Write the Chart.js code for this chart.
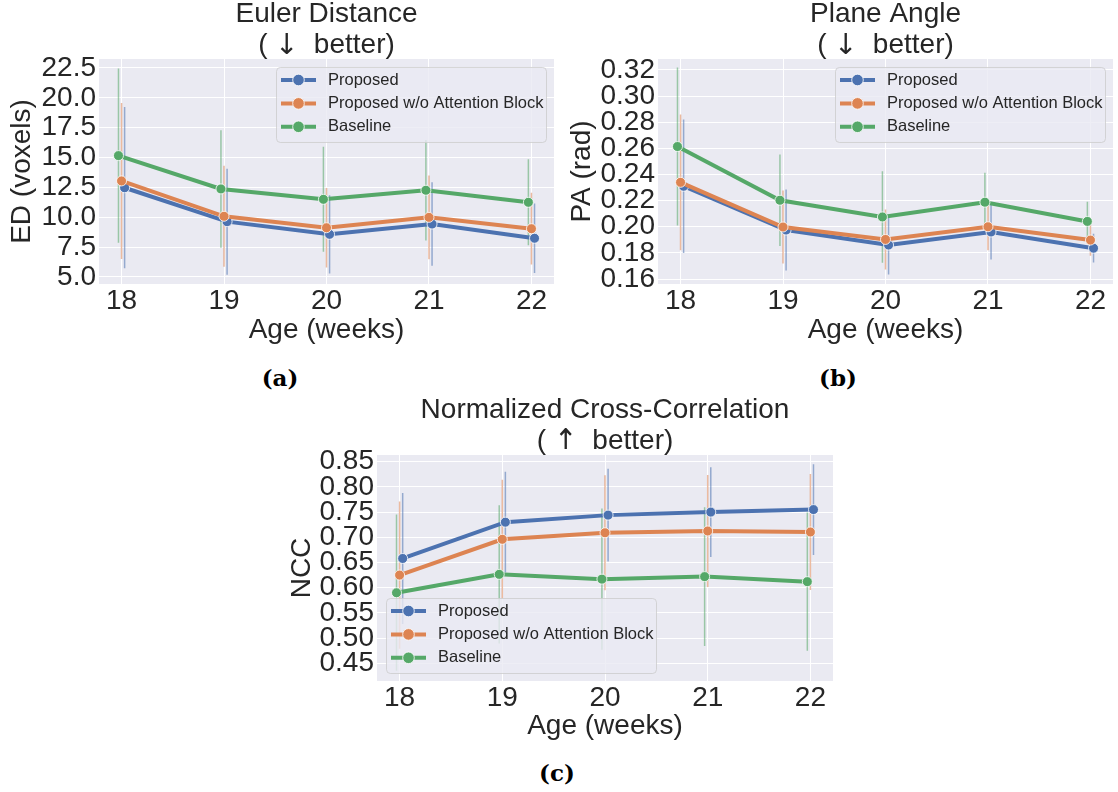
<!DOCTYPE html>
<html>
<head>
<meta charset="utf-8">
<script src="https://cdn.jsdelivr.net/npm/chart.js@4.4.0/dist/chart.umd.min.js"></script>
<style>
  @font-face { font-family: "ArrowFace"; src: local("DejaVu Sans"); unicode-range: U+2190-21FF; }
  body { margin: 0; background: #fff; width: 1118px; height: 792px; position: relative; overflow: hidden; }
  canvas { position: absolute; }
  .sub { position: absolute; font: bold 23px "DejaVu Serif"; color: #000; line-height: 1; transform: translate(-50%, -50%); }
</style>
</head>
<body>
<canvas id="chart-ed" width="560" height="350" style="left:0px;top:0px"></canvas>
<canvas id="chart-pa" width="558" height="350" style="left:560px;top:0px"></canvas>
<canvas id="chart-ncc" width="560" height="350" style="left:280px;top:396px"></canvas>
<div class="sub" style="left:280px;top:377px">(a)</div>
<div class="sub" style="left:838px;top:377px">(b)</div>
<div class="sub" style="left:557px;top:772px">(c)</div>
<script>
// chart data (means and standard deviations per gestational age)
const ages = [18, 19, 20, 21, 22];
const seriesNames = ['Proposed', 'Proposed w/o Attention Block', 'Baseline'];

const edProposed = [12.47, 9.63, 8.57, 9.43, 8.24];
const edProposedSd = [6.75, 4.44, 3.28, 3.50, 2.90];
const edNoAttn = [13.04, 10.08, 9.12, 9.99, 9.04];
const edNoAttnSd = [6.53, 4.23, 3.33, 3.50, 3.00];
const edBaseline = [15.16, 12.37, 11.50, 12.26, 11.25];
const edBaselineSd = [7.30, 4.92, 4.40, 4.20, 3.60];

const paProposed = [0.231, 0.1975, 0.186, 0.196, 0.1836];
const paProposedSd = [0.051, 0.031, 0.0225, 0.021, 0.011];
const paNoAttn = [0.234, 0.1998, 0.1903, 0.200, 0.1898];
const paNoAttnSd = [0.052, 0.028, 0.023, 0.018, 0.012];
const paBaseline = [0.2614, 0.2203, 0.2075, 0.2188, 0.2041];
const paBaselineSd = [0.0605, 0.035, 0.035, 0.0225, 0.015];

const nccProposed = [0.658, 0.730, 0.744, 0.750, 0.755];
const nccProposedSd = [0.130, 0.100, 0.092, 0.089, 0.090];
const nccNoAttn = [0.625, 0.696, 0.709, 0.7125, 0.7105];
const nccNoAttnSd = [0.146, 0.118, 0.114, 0.111, 0.115];
const nccBaseline = [0.590, 0.6265, 0.617, 0.622, 0.612];
const nccBaselineSd = [0.155, 0.137, 0.140, 0.1375, 0.137];

const colors = ['#4C72B0', '#DD8452', '#55A868'];
const barColors = ['rgba(76,114,176,0.55)', 'rgba(221,132,82,0.55)', 'rgba(85,168,104,0.55)'];
const dodge = [0.03, 0, -0.03];
const FONT = '"Liberation Sans", Arial, sans-serif';
const TITLE_FONT = 'ArrowFace, "Liberation Sans", Arial, sans-serif';

Chart.defaults.font.family = FONT;
Chart.defaults.color = '#262626';

// seaborn-like axes face
const plotBg = {
  id: 'plotBg',
  beforeDraw(chart) {
    const { ctx, chartArea: a } = chart;
    ctx.save();
    ctx.fillStyle = '#EAEAF2';
    ctx.fillRect(a.left, a.top, a.right - a.left, a.bottom - a.top);
    ctx.restore();
  }
};

// framed legend inside the axes, like matplotlib
const boxLegend = {
  id: 'boxLegend',
  afterDatasetsDraw(chart, args, opts) {
    const { ctx, chartArea: a } = chart;
    const w = 270, h = 75;
    const left = opts.corner === 'lower left' ? a.left + 9 : a.right - 8 - w;
    const top = opts.corner === 'lower left' ? a.bottom - 8 - h : a.top + 8;
    ctx.save();
    ctx.beginPath();
    ctx.roundRect(left + 0.5, top + 0.5, w, h, 4);
    ctx.fillStyle = 'rgba(234,234,242,0.8)';
    ctx.fill();
    ctx.strokeStyle = 'rgba(204,204,204,0.8)';
    ctx.lineWidth = 1;
    ctx.stroke();
    ctx.font = '16.5px ' + FONT;
    ctx.textBaseline = 'middle';
    const lines = chart.data.datasets.filter(d => !d.isErr);
    lines.forEach((ds, i) => {
      const y = top + 13 + i * 23.4;
      ctx.strokeStyle = ds.borderColor;
      ctx.lineWidth = 4;
      ctx.beginPath();
      ctx.moveTo(left + 5, y);
      ctx.lineTo(left + 40, y);
      ctx.stroke();
      ctx.beginPath();
      ctx.arc(left + 22.5, y, 5.8, 0, Math.PI * 2);
      ctx.fillStyle = ds.borderColor;
      ctx.fill();
      ctx.strokeStyle = '#fff';
      ctx.lineWidth = 0.8;
      ctx.stroke();
      ctx.fillStyle = '#262626';
      ctx.fillText(ds.label, left + 52, y);
    });
    ctx.restore();
  }
};

function buildDatasets(means, sds) {
  const sets = [];
  means.forEach((m, k) => {
    const pts = [];
    ages.forEach((a, i) => {
      const x = a + dodge[k];
      pts.push({ x, y: m[i] - sds[k][i] }, { x, y: m[i] + sds[k][i] }, { x, y: null });
    });
    sets.push({
      label: seriesNames[k] + ' sd', isErr: true, data: pts,
      borderColor: barColors[k], borderWidth: 1.5, pointRadius: 0, spanGaps: false, order: 10 + k
    });
  });
  means.forEach((m, k) => {
    sets.push({
      label: seriesNames[k],
      data: ages.map((a, i) => ({ x: a + dodge[k], y: m[i] })),
      borderColor: colors[k], backgroundColor: colors[k], borderWidth: 4,
      pointRadius: 5, pointHoverRadius: 5, pointBackgroundColor: colors[k],
      pointBorderColor: '#fff', pointBorderWidth: 0.8, tension: 0, order: 3 - k
    });
  });
  return sets;
}

function makeChart(id, cfg) {
  new Chart(document.getElementById(id), {
    type: 'line',
    data: { datasets: buildDatasets(cfg.means, cfg.sds) },
    options: {
      responsive: false,
      animation: false,
      devicePixelRatio: 1,
      layout: { autoPadding: false, padding: { left: 0, top: 0, bottom: 0, right: cfg.padRight } },
      plugins: {
        legend: { display: false },
        tooltip: { enabled: false },
        title: {
          display: true, fullSize: false, text: cfg.title, color: '#262626',
          font: { family: TITLE_FONT, size: 28, lineHeight: 1.107, weight: 'normal' }, padding: { top: -1, bottom: -2 }
        },
        boxLegend: { corner: cfg.corner }
      },
      scales: {
        x: {
          type: 'linear', min: 17.78, max: 22.22,
          afterFit: s => { s.height = cfg.xHeight; },
          grid: { color: '#ffffff', lineWidth: 1, drawTicks: false },
          border: { display: false },
          ticks: { stepSize: 1, includeBounds: false, autoSkip: false, maxRotation: 0, padding: 0,
                   font: { size: 28 }, color: '#262626', callback: v => String(v) },
          title: { display: true, text: 'Age (weeks)', font: { size: 28 }, color: '#262626', padding: { top: 0, bottom: 3 } }
        },
        y: {
          min: cfg.yMin, max: cfg.yMax,
          afterFit: s => { s.width = cfg.yWidth; },
          grid: { color: '#ffffff', lineWidth: 1, drawTicks: false },
          border: { display: false },
          ticks: { stepSize: cfg.step, includeBounds: false, autoSkip: false, padding: 3,
                   font: { size: 28 }, color: '#262626', callback: v => v.toFixed(cfg.digits) },
          title: { display: true, text: cfg.yTitle, font: { size: 28 }, color: '#262626', padding: { top: 5, bottom: 0 } }
        }
      }
    },
    plugins: [plotBg, boxLegend]
  });
}

function drawAll() {
  makeChart('chart-ed', {
    title: ['Euler Distance', '( \u2193  better)'], yTitle: 'ED (voxels)',
    means: [edProposed, edNoAttn, edBaseline], sds: [edProposedSd, edNoAttnSd, edBaselineSd],
    yMin: 4.41, yMax: 23.25, step: 2.5, digits: 1,
    yWidth: 99, xHeight: 66, padRight: 6, corner: 'upper right'
  });

  makeChart('chart-pa', {
    title: ['Plane Angle', '( \u2193  better)'], yTitle: 'PA (rad)',
    means: [paProposed, paNoAttn, paBaseline], sds: [paProposedSd, paNoAttnSd, paBaselineSd],
    yMin: 0.1562, yMax: 0.3284, step: 0.02, digits: 2,
    yWidth: 98, xHeight: 66, padRight: 5, corner: 'upper right'
  });

  makeChart('chart-ncc', {
    title: ['Normalized Cross-Correlation', '( \u2191  better)'], yTitle: 'NCC',
    means: [nccProposed, nccNoAttn, nccBaseline], sds: [nccProposedSd, nccNoAttnSd, nccBaselineSd],
    yMin: 0.4149, yMax: 0.8633, step: 0.05, digits: 2,
    yWidth: 97, xHeight: 65, padRight: 7, corner: 'lower left'
  });
}

// make sure the arrow face is ready before the canvases draw text
document.fonts.load('28px ArrowFace', '\u2191\u2193').catch(() => {}).finally(drawAll);
</script>
</body>
</html>
